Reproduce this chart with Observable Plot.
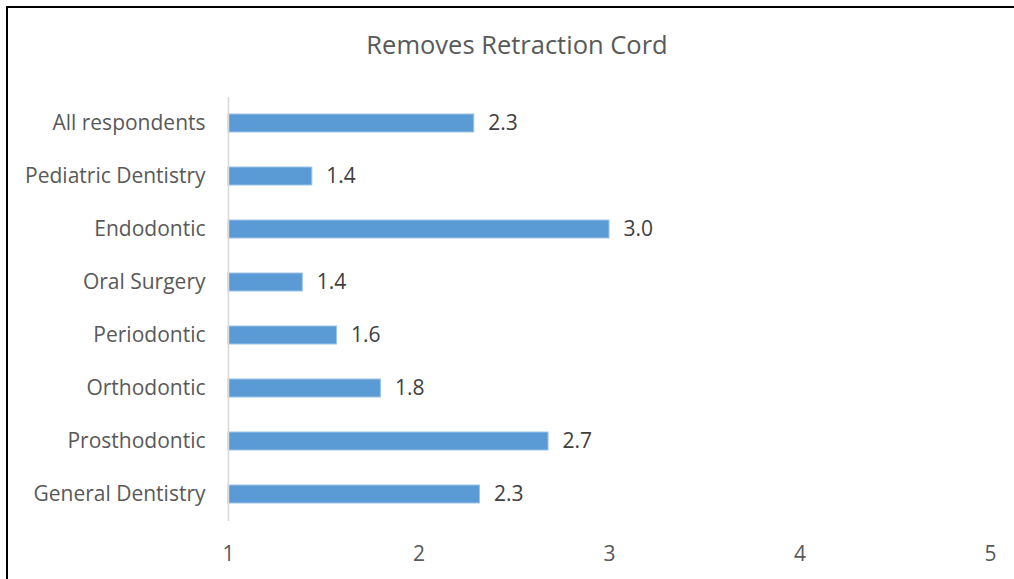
<!DOCTYPE html>
<html>
<head>
<meta charset="utf-8">
<script src="https://cdn.jsdelivr.net/npm/d3@7"></script>
<script src="https://cdn.jsdelivr.net/npm/@observablehq/plot@0.6"></script>
<style>
  html, body { margin: 0; padding: 0; background: #fff; }
  #wrap { position: relative; width: 1014px; height: 579px; overflow: hidden; background: #fff; font-family: "Open Sans", sans-serif; }
  #frame { position: absolute; left: 6px; top: 6px; width: 1100px; height: 700px; border-left: 2px solid #000; border-top: 2px solid #000; box-sizing: border-box; pointer-events: none; }
  #title { height: 80px; line-height: 1; font-size: 25.5px; color: #595959; box-sizing: border-box; position: relative; }
  #title span { position: absolute; left: 0; right: 0; top: 32px; text-align: center; padding-left: 20px; }
  #chart svg { display: block; }
</style>
</head>
<body>
<div id="wrap">
  <div id="frame"></div>
  <div id="title"><span>Removes Retraction Cord</span></div>
  <div id="chart"></div>
</div>
<script>
const categories = [
  "All respondents",
  "Pediatric Dentistry",
  "Endodontic",
  "Oral Surgery",
  "Periodontic",
  "Orthodontic",
  "Prosthodontic",
  "General Dentistry"
];
const values = [2.29, 1.44, 3.0, 1.39, 1.57, 1.80, 2.68, 2.32];
const xTicks = [1, 2, 3, 4, 5];

const data = categories.map((c, i) => ({category: c, value: values[i]}));

const chart = Plot.plot({
  width: 1014,
  height: 499,
  marginTop: 17,
  marginBottom: 58,
  marginLeft: 228,
  marginRight: 24,
  style: {fontFamily: "Open Sans, sans-serif", fontSize: "21px", color: "#595959", background: "transparent"},
  x: {domain: [1, 5], ticks: xTicks, tickFormat: d => String(d), tickSize: 0, tickPadding: 24.5, label: null},
  y: {domain: categories, paddingInner: 0.66, paddingOuter: 0.33, tickSize: 0, tickPadding: 23, label: null},
  marks: [
    Plot.barX(data, {y: "category", x1: 1, x2: "value", fill: "#5B9BD5", stroke: "#9DC3E6", strokeWidth: 1}),
    Plot.ruleX([1], {stroke: "#d9d9d9", strokeWidth: 1.5}),
    Plot.text(data, {y: "category", x: "value", text: d => d.value.toFixed(1), dx: 14, textAnchor: "start", fill: "#404040", fontSize: 21})
  ]
});
document.getElementById("chart").appendChild(chart);
</script>
</body>
</html>
